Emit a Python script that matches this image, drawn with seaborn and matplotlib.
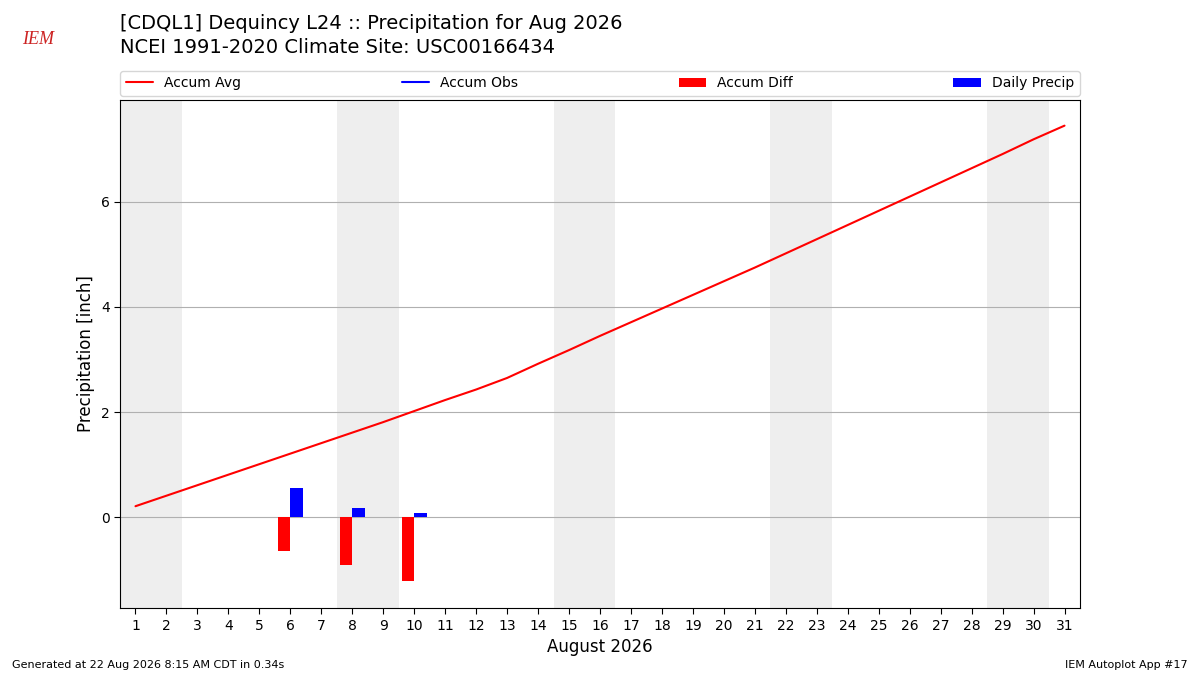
import matplotlib
matplotlib.use("Agg")
import matplotlib.pyplot as plt
import seaborn as sns
import numpy as np

sns.set_style("white")
plt.rcParams['font.family'] = ['DejaVu Sans']
plt.rcParams['text.color'] = 'black'
plt.rcParams['axes.labelcolor'] = 'black'
plt.rcParams['xtick.color'] = 'black'
plt.rcParams['ytick.color'] = 'black'

days = list(range(1, 32))
accum_avg = [0.21, 0.41, 0.61, 0.81, 1.01, 1.21, 1.41, 1.61, 1.81, 2.02, 2.23, 2.43, 2.65, 2.92, 3.18, 3.45,
             3.71, 3.97, 4.23, 4.49, 4.75, 5.02, 5.29, 5.56, 5.83, 6.10, 6.37, 6.64, 6.91, 7.19, 7.45]
precip_days = [6, 8, 10]
daily_precip = [0.55, 0.17, 0.08]
accum_diff = [-0.65, -0.90, -1.22]
weekend_starts = [1, 8, 15, 22, 29]

fig = plt.figure(figsize=(12, 6.75), dpi=100)
ax = fig.add_axes([0.1, 0.099, 0.8, 0.753])

for w in weekend_starts:
    ax.axvspan(w - 0.5, w + 1.5, color="#eeeeee", zorder=0, lw=0)

sns.lineplot(x=days, y=accum_avg, color="red", ax=ax, label="Accum Avg", zorder=3)
ax.plot([], [], color="blue", label="Accum Obs")
ax.bar(np.array(precip_days) - 0.4, accum_diff, width=0.4, align="edge", color="red",
       label="Accum Diff", zorder=3, lw=0)
ax.bar(precip_days, daily_precip, width=0.4, align="edge", color="blue",
       label="Daily Precip", zorder=3, lw=0)

ax.set_xlim(0.5, 31.5)
ax.set_ylim(-1.73, 7.94)
ax.set_xticks(days)
ax.set_yticks([0, 2, 4, 6])
ax.yaxis.grid(True, color="#b0b0b0", lw=0.8)
ax.set_axisbelow(True)
ax.tick_params(axis="both", which="both", length=4, direction="out", bottom=True, left=True, labelsize=10)
for s in ax.spines.values():
    s.set_color("black")
ax.set_xlabel("August 2026", fontsize=12)
ax.set_ylabel("Precipitation [inch]", fontsize=12)

ax.legend(loc="lower left", bbox_to_anchor=(0, 1.008, 1, 0.05), ncol=4, mode="expand",
          borderaxespad=0, fontsize=10, frameon=True)

fig.text(0.1, 0.965, "[CDQL1] Dequincy L24 :: Precipitation for Aug 2026", fontsize=14, va="center")
fig.text(0.1, 0.93, "NCEI 1991-2020 Climate Site: USC00166434", fontsize=14, va="center")
fig.text(0.018, 0.935, "IEM", color="#cc2222", fontsize=13, style="italic", family="Liberation Serif")
fig.text(0.01, 0.01, "Generated at 22 Aug 2026 8:15 AM CDT in 0.34s", fontsize=8)
fig.text(0.99, 0.01, "IEM Autoplot App #17", fontsize=8, ha="right")

fig.savefig("out.png", dpi=100)
